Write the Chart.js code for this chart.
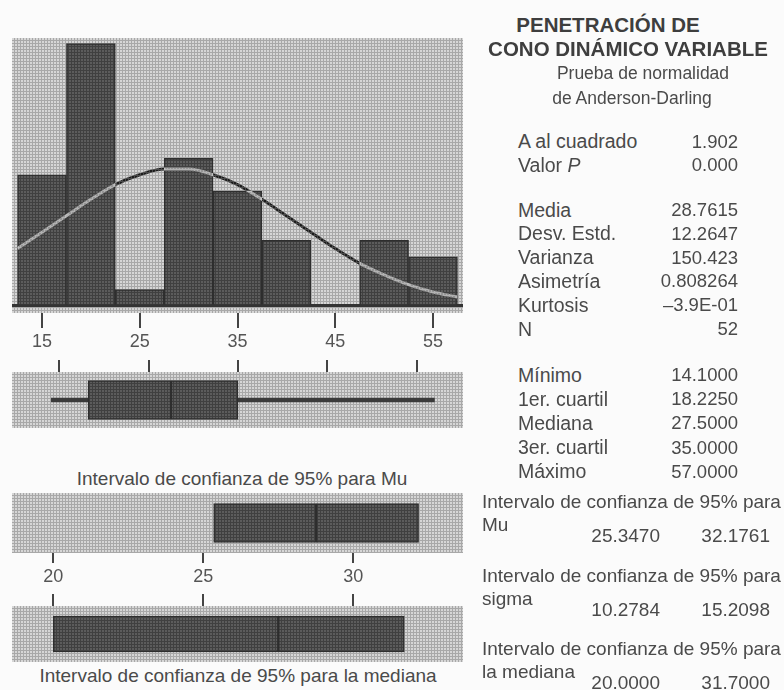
<!DOCTYPE html>
<html>
<head>
<meta charset="utf-8">
<script src="https://cdn.jsdelivr.net/npm/chart.js@4.4.1/dist/chart.umd.min.js"></script>
<style>
  body { margin: 0; background: #fbfbfb; }
  #wrap { position: relative; width: 784px; height: 690px; overflow: hidden; font-family: "Liberation Sans", Arial, sans-serif; color: #4a4a4a; }
  canvas { position: absolute; }
  .t { position: absolute; white-space: nowrap; }
</style>
</head>
<body>
<div id="wrap">
  <canvas id="hist" width="451" height="320" style="left:12px;top:38px"></canvas>
  <canvas id="box" width="451" height="68" style="left:12px;top:360px"></canvas>
  <canvas id="mu" width="451" height="96" style="left:12px;top:493px"></canvas>
  <canvas id="med" width="451" height="68" style="left:12px;top:594px"></canvas>
</div>
<script>
// histogram
var binCenters = [15, 20, 25, 30, 35, 40, 45, 50, 55];
var counts = [8, 16, 1, 9, 7, 4, 0, 4, 3];
var histTicks = [15, 25, 35, 45, 55];
// fitted normal curve
var curveX = [12.5, 15, 17.5, 20, 22.5, 25, 27.5, 30, 32.5, 35, 37.5, 40, 42.5, 45, 47.5, 50, 52.5, 55, 57.5];
var curveY = [3.5, 4.5, 5.5, 6.5, 7.4, 8.0, 8.35, 8.35, 8.0, 7.4, 6.5, 5.5, 4.5, 3.5, 2.6, 1.9, 1.3, 0.85, 0.55];

// summary values
var minimo = 14.1, q1 = 18.225, mediana = 27.5, q3 = 35.0, maximo = 57.0;
var media = 28.7615;
var muCI = [25.347, 32.1761];
var sigmaCI = [10.2784, 15.2098];
var medCI = [20.0, 31.7];
var ciTicks = [20, 25, 30];

var statsTop = [['A al cuadrado', '1.902'], ['Valor <i>P</i>', '0.000']];
var statsMid = [['Media', '28.7615'], ['Desv. Estd.', '12.2647'], ['Varianza', '150.423'],
                ['Asimetría', '0.808264'], ['Kurtosis', '\u20133.9E-01'], ['N', '52']];
var statsLow = [['Mínimo', minimo], ['1er. cuartil', q1], ['Mediana', mediana],
                ['3er. cuartil', q3], ['Máximo', maximo]];

function pattern(light, dark) {
  var c = document.createElement('canvas');
  c.width = 3; c.height = 3;
  var g = c.getContext('2d');
  g.fillStyle = dark; g.fillRect(0, 0, 3, 3);
  g.fillStyle = light; g.fillRect(0, 0, 2, 2);
  return g.createPattern(c, 'repeat');
}
var bgPat = pattern('#d6d6d6', '#a8a8a8');
var barPat = pattern('#5c5c5c', '#404040');

var bandBg = {
  id: 'bandBg',
  beforeDraw: function(chart) {
    var a = chart.chartArea, ctx = chart.ctx;
    ctx.save();
    ctx.fillStyle = bgPat;
    ctx.fillRect(a.left, a.top, a.right - a.left, a.bottom - a.top);
    ctx.restore();
  }
};
// curve contrasts with what is below it
var diffLine = {
  id: 'diffLine',
  beforeDatasetDraw: function(chart, args) {
    if (args.meta.type === 'line') { chart.ctx.save(); chart.ctx.globalCompositeOperation = 'difference'; }
  },
  afterDatasetDraw: function(chart, args) {
    if (args.meta.type === 'line') chart.ctx.restore();
  }
};

Chart.defaults.font.family = '"Liberation Sans", Arial, sans-serif';
Chart.defaults.color = '#555';

function setTicks(vals) {
  return function(s) { s.ticks = vals.map(function(v) { return { value: v }; }); };
}

new Chart(document.getElementById('hist'), {
  type: 'bar',
  data: {
    datasets: [{
      data: binCenters.map(function(x, i) { return { x: x, y: counts[i] }; }),
      backgroundColor: barPat,
      borderColor: '#2e2e2e',
      borderWidth: 1.5,
      barPercentage: 1,
      categoryPercentage: 1
    }, {
      type: 'line',
      data: curveX.map(function(x, i) { return { x: x, y: curveY[i] }; }),
      borderColor: '#f2f2f2',
      borderWidth: 3,
      pointRadius: 0,
      cubicInterpolationMode: 'monotone',
      fill: false,
      order: -1
    }]
  },
  options: {
    responsive: false, animation: false,
    layout: { padding: 0 },
    plugins: { legend: { display: false }, tooltip: { enabled: false } },
    scales: {
      x: {
        type: 'linear', min: 11.93, max: 58.07, offset: false,
        afterBuildTicks: setTicks(histTicks),
        afterFit: function(s) { s.height = 45; },
        grid: { offset: false, drawOnChartArea: false, tickLength: 15, color: '#444', lineWidth: 2 },
        border: { display: false },
        ticks: { font: { size: 18 }, color: '#555', padding: 3 }
      },
      y: {
        min: -0.43, max: 16.34,
        afterBuildTicks: setTicks([0]),
        afterFit: function(s) { s.width = 0; },
        grid: { drawTicks: false, color: '#333', lineWidth: 3 },
        border: { display: false },
        ticks: { display: false }
      }
    }
  },
  plugins: [bandBg, diffLine]
});

function boxChart(id, lo, mid, hi, thick, xmin, xmax, tickVals, pos, showLabels, tickLen, axisH, whisker) {
  var sets = [
    { data: [[lo, mid]], barThickness: thick },
    { data: [[mid, hi]], barThickness: thick }
  ].map(function(d) {
    d.backgroundColor = barPat; d.borderColor = '#2e2e2e'; d.borderWidth = 1.5;
    d.borderSkipped = false; d.grouped = false;
    return d;
  });
  if (whisker) {
    sets.push({ data: [whisker], barThickness: 4, backgroundColor: '#3a3a3a', borderWidth: 0, grouped: false });
  }
  return new Chart(document.getElementById(id), {
    type: 'bar',
    data: { labels: [''], datasets: sets },
    options: {
      indexAxis: 'y', responsive: false, animation: false,
      layout: { padding: 0 },
      plugins: { legend: { display: false }, tooltip: { enabled: false } },
      scales: {
        x: {
          type: 'linear', min: xmin, max: xmax, position: pos,
          afterBuildTicks: setTicks(tickVals),
          afterFit: function(s) { s.height = axisH; },
          grid: { offset: false, drawOnChartArea: false, tickLength: tickLen, color: '#444', lineWidth: 2 },
          border: { display: false },
          ticks: { display: showLabels, font: { size: 18 }, color: '#555', padding: 3 }
        },
        y: { display: false }
      }
    },
    plugins: [bandBg]
  });
}

boxChart('box', q1, mediana, q3, 39, 9.7, 60.2, histTicks, 'top', false, 12, 12, [minimo, maximo]);
boxChart('mu', muCI[0], media, muCI[1], 39, 18.623, 33.657, ciTicks, 'bottom', true, 10, 36, null);
boxChart('med', medCI[0], mediana, medCI[1], 36, 18.623, 33.657, ciTicks, 'top', false, 12, 12, null);

// texts
var wrap = document.getElementById('wrap');
function txt(html, x, y, align, size, extra) {
  var d = document.createElement('div');
  d.className = 't';
  var lh = Math.round(size * 1.3);
  d.style.fontSize = size + 'px';
  d.style.lineHeight = lh + 'px';
  d.style.top = (y - lh / 2) + 'px';
  if (align === 'center') { d.style.left = (x - 250) + 'px'; d.style.width = '500px'; d.style.textAlign = 'center'; }
  else if (align === 'right') { d.style.left = (x - 300) + 'px'; d.style.width = '300px'; d.style.textAlign = 'right'; }
  else { d.style.left = x + 'px'; }
  if (extra) for (var k in extra) d.style[k] = extra[k];
  d.innerHTML = html;
  wrap.appendChild(d);
}

txt('Intervalo de confianza de 95% para Mu', 242, 478, 'center', 19);
txt('Intervalo de confianza de 95% para la mediana', 238, 675, 'center', 19);

var bold = { fontWeight: 'bold', color: '#3e3e3e' };
txt('PENETRACIÓN DE', 608, 24, 'center', 20.5, bold);
txt('CONO DINÁMICO VARIABLE', 628, 48, 'center', 20.5, bold);
txt('Prueba de normalidad', 643, 73, 'center', 17.5);
txt('de Anderson-Darling', 632, 98, 'center', 17.5);

function statRow(label, value, y) {
  txt(label, 518, y, 'left', 19.5);
  txt(value, 738, y, 'right', 18.5);
}
statsTop.forEach(function(r, i) { statRow(r[0], r[1], 141.5 + i * 23.5); });
statsMid.forEach(function(r, i) { statRow(r[0], r[1], 210 + i * 23.8); });
statsLow.forEach(function(r, i) { statRow(r[0], r[1].toFixed(4), 375 + i * 24.2); });

var ciRows = [['Mu', muCI, 501], ['sigma', sigmaCI, 575], ['la mediana', medCI, 648]];
ciRows.forEach(function(r) {
  txt('Intervalo de confianza de 95% para', 482, r[2], 'left', 19);
  txt(r[0], 482, r[2] + 23, 'left', 19);
  txt(r[1][0].toFixed(4), 660, r[2] + 34, 'right', 19);
  txt(r[1][1].toFixed(4), 770, r[2] + 34, 'right', 19);
});
</script>
</body>
</html>
